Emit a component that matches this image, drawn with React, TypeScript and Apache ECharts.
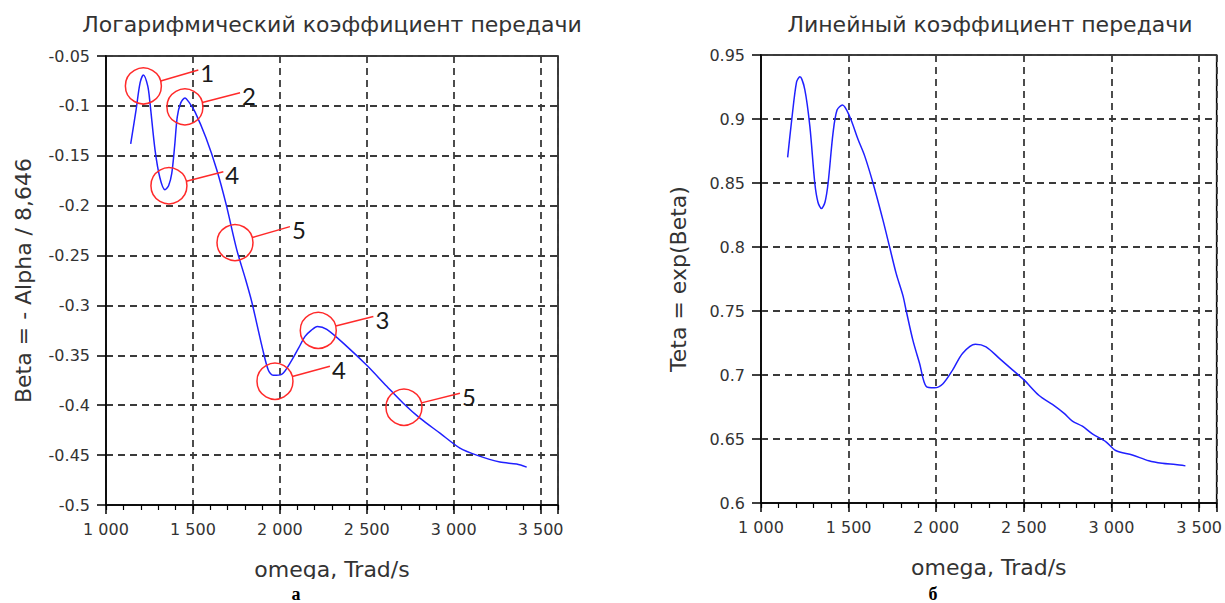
import React, { useEffect, useRef } from "react";
import * as echarts from "echarts";

// ---- Data ----
const titleLeft = "Логарифмический коэффициент передачи";
const titleRight = "Линейный коэффициент передачи";
const xAxisName = "omega, Trad/s";
const yNameLeft = "Beta = - Alpha / 8,646";
const yNameRight = "Teta = exp(Beta)";
const panelLabels = ["а", "б"];

const omegaBeta = [
  1142, 1173, 1196, 1215, 1240, 1253, 1282, 1310, 1339, 1360, 1378, 1395, 1410, 1430, 1454, 1480,
  1512, 1575, 1637, 1690, 1752, 1803, 1838, 1867, 1900, 1934, 1962, 2010, 2068, 2110, 2145, 2180,
  2216, 2270, 2385, 2500, 2615, 2710, 2806, 2921, 3036, 3132, 3266, 3362, 3420,
];
const betaValues = [
  -0.138, -0.104, -0.077, -0.069, -0.080, -0.097, -0.144, -0.172, -0.184, -0.180, -0.168, -0.140,
  -0.111, -0.097, -0.092, -0.097, -0.106, -0.132, -0.164, -0.198, -0.244, -0.274, -0.296, -0.318,
  -0.343, -0.365, -0.370, -0.369, -0.355, -0.342, -0.331, -0.325, -0.321, -0.324, -0.341, -0.360,
  -0.381, -0.398, -0.413, -0.428, -0.443, -0.450, -0.457, -0.459, -0.462,
];

const omegaTeta = [
  1152, 1175, 1203, 1222, 1250, 1279, 1307, 1325, 1345, 1365, 1383, 1411, 1434, 1465, 1506, 1554,
  1592, 1639, 1696, 1734, 1772, 1810, 1829, 1867, 1905, 1943, 1990, 2037, 2094, 2151, 2223, 2284,
  2360, 2435, 2502, 2587, 2663, 2730, 2777, 2834, 2891, 2967, 3024, 3119, 3213, 3289, 3365, 3422,
];
const tetaValues = [
  0.870, 0.899, 0.929, 0.933, 0.923, 0.894, 0.850, 0.835, 0.830, 0.835, 0.850, 0.889, 0.907, 0.911,
  0.902, 0.884, 0.871, 0.850, 0.821, 0.800, 0.779, 0.762, 0.750, 0.727, 0.709, 0.691, 0.690, 0.693,
  0.704, 0.717, 0.724, 0.722, 0.713, 0.704, 0.696, 0.684, 0.677, 0.670, 0.664, 0.660, 0.654, 0.648,
  0.641, 0.6375, 0.633, 0.631, 0.630, 0.629,
];

// Annotations on the left chart: circled points with numbered leaders
const annotLabels = ["1", "2", "4", "5", "3", "4", "5"];
const annotCenterOmega = [1215, 1454, 1362, 1742, 2221, 1972, 2714];
const annotCenterBeta = [-0.08, -0.101, -0.18, -0.237, -0.325, -0.376, -0.402];
const annotTipOmega = [1531, 1771, 1675, 2058, 2538, 2288, 3036];
const annotTipBeta = [-0.064, -0.0868, -0.166, -0.221, -0.311, -0.361, -0.388];

const xMin = 1000;
const xMax = 3600;

const FONT = "DejaVu Sans";
const TEXT_COLOR = "#333";
const GRID_LINE = { color: "#3a3a3a", width: 1.8, type: [7, 5] };

const fmtX = (v: number) =>
  v % 500 === 0 && v <= 3500 ? String(v).replace(/\B(?=(\d{3})+(?!\d))/g, " ") : "";
const fmtY = (v: number) => String(Math.round(v * 100) / 100);

function mainX(gridIndex: number) {
  return {
    type: "value",
    gridIndex,
    min: xMin,
    max: xMax,
    interval: 500,
    position: "bottom",
    name: xAxisName,
    nameLocation: "middle",
    nameGap: 53,
    nameTextStyle: { fontFamily: FONT, fontSize: 22, color: TEXT_COLOR },
    axisLine: { show: true, onZero: false, lineStyle: { color: "#000", width: 1.5 } },
    axisTick: { show: true, inside: false, length: 9, lineStyle: { color: "#000", width: 1.5 } },
    axisLabel: { formatter: fmtX, margin: 16, fontFamily: FONT, fontSize: 16, color: TEXT_COLOR },
    splitLine: { show: true, lineStyle: GRID_LINE },
  };
}
function minorX(gridIndex: number) {
  return {
    type: "value",
    gridIndex,
    min: xMin,
    max: xMax,
    interval: 100,
    position: "bottom",
    axisLine: { show: false, onZero: false },
    axisTick: { show: true, inside: false, length: 5, lineStyle: { color: "#000", width: 1.2 } },
    axisLabel: { show: false },
    splitLine: { show: false },
  };
}
function mainY(gridIndex: number, min: number, max: number, name: string) {
  return {
    type: "value",
    gridIndex,
    min,
    max,
    interval: 0.05,
    name,
    nameLocation: "middle",
    nameGap: 72,
    nameTextStyle: { fontFamily: FONT, fontSize: 22, color: TEXT_COLOR },
    axisLine: { show: true, onZero: false, lineStyle: { color: "#000", width: 1.5 } },
    axisTick: { show: true, inside: false, length: 9, lineStyle: { color: "#000", width: 1.5 } },
    axisLabel: { formatter: fmtY, margin: 16, fontFamily: FONT, fontSize: 16, color: TEXT_COLOR },
    splitLine: { show: true, lineStyle: GRID_LINE },
  };
}

export default function App() {
  const ref = useRef<HTMLDivElement>(null);
  useEffect(() => {
    if (!ref.current) return;
    const chart = echarts.init(ref.current, null, { renderer: "svg" });
    const leftData = omegaBeta.map((w, i) => [w, betaValues[i]]);
    const rightData = omegaTeta.map((w, i) => [w, tetaValues[i]]);
    const annotData = annotLabels.map((_, i) => [
      annotCenterOmega[i],
      annotCenterBeta[i],
      annotTipOmega[i],
      annotTipBeta[i],
    ]);
    const red = "#ff2a2a";
    chart.setOption({
      animation: false,
      backgroundColor: "#fff",
      grid: [
        { left: 106, top: 56, width: 452, height: 449, show: true, borderColor: "#000", borderWidth: 1.5, backgroundColor: "transparent" },
        { left: 761, top: 55, width: 457, height: 448, show: true, borderColor: "#000", borderWidth: 1.5, backgroundColor: "transparent" },
      ],
      xAxis: [mainX(0), minorX(0), mainX(1), minorX(1)],
      yAxis: [mainY(0, -0.5, -0.05, yNameLeft), mainY(1, 0.6, 0.95, yNameRight)],
      series: [
        {
          type: "line",
          xAxisIndex: 0,
          yAxisIndex: 0,
          data: leftData,
          showSymbol: false,
          smooth: 0.3,
          lineStyle: { color: "#2020ff", width: 1.5 },
          z: 3,
        },
        {
          type: "line",
          xAxisIndex: 2,
          yAxisIndex: 1,
          data: rightData,
          showSymbol: false,
          smooth: 0.3,
          lineStyle: { color: "#2020ff", width: 1.5 },
          z: 3,
        },
        {
          type: "custom",
          xAxisIndex: 0,
          yAxisIndex: 0,
          clip: false,
          z: 5,
          encode: { x: [0, 2], y: [1, 3] },
          data: annotData,
          renderItem: (params: any, api: any) => {
            const c = api.coord([api.value(0), api.value(1)]);
            const t = api.coord([api.value(2), api.value(3)]);
            const dx = t[0] - c[0];
            const dy = t[1] - c[1];
            const len = Math.hypot(dx, dy) || 1;
            const r = 18;
            const sx = c[0] + (dx / len) * r;
            const sy = c[1] + (dy / len) * r;
            return {
              type: "group",
              children: [
                { type: "circle", shape: { cx: c[0], cy: c[1], r }, style: { fill: "none", stroke: red, lineWidth: 1.5 } },
                { type: "line", shape: { x1: sx, y1: sy, x2: t[0], y2: t[1] }, style: { stroke: red, lineWidth: 1.5 } },
                {
                  type: "text",
                  x: t[0] + 2,
                  y: t[1] + 3,
                  style: {
                    text: annotLabels[params.dataIndex],
                    fontSize: 24,
                    fontFamily: "Lato",
                    fill: "#1a1a1a",
                    align: "left",
                    verticalAlign: "middle",
                  },
                },
              ],
            };
          },
        },
      ],
      graphic: [
        { type: "text", x: 332, y: 24, style: { text: titleLeft, align: "center", verticalAlign: "middle", fontFamily: FONT, fontSize: 22, fill: TEXT_COLOR } },
        { type: "text", x: 990, y: 24, style: { text: titleRight, align: "center", verticalAlign: "middle", fontFamily: FONT, fontSize: 22, fill: TEXT_COLOR } },
        { type: "rect", shape: { x: 0, y: 579, width: 1225, height: 24 }, style: { fill: "#fff" }, z: 100 },
        { type: "text", x: 296, y: 603, z: 101, style: { text: panelLabels[0], align: "center", verticalAlign: "bottom", fontFamily: "Liberation Serif", fontWeight: "bold", fontSize: 18, fill: "#000" } },
        { type: "text", x: 933, y: 603, z: 101, style: { text: panelLabels[1], align: "center", verticalAlign: "bottom", fontFamily: "Liberation Serif", fontWeight: "bold", fontSize: 18, fill: "#000" } },
      ],
    });
    return () => chart.dispose();
  }, []);
  return <div ref={ref} style={{ position: "absolute", left: 0, top: 0, width: 1225, height: 603 }} />;
}
